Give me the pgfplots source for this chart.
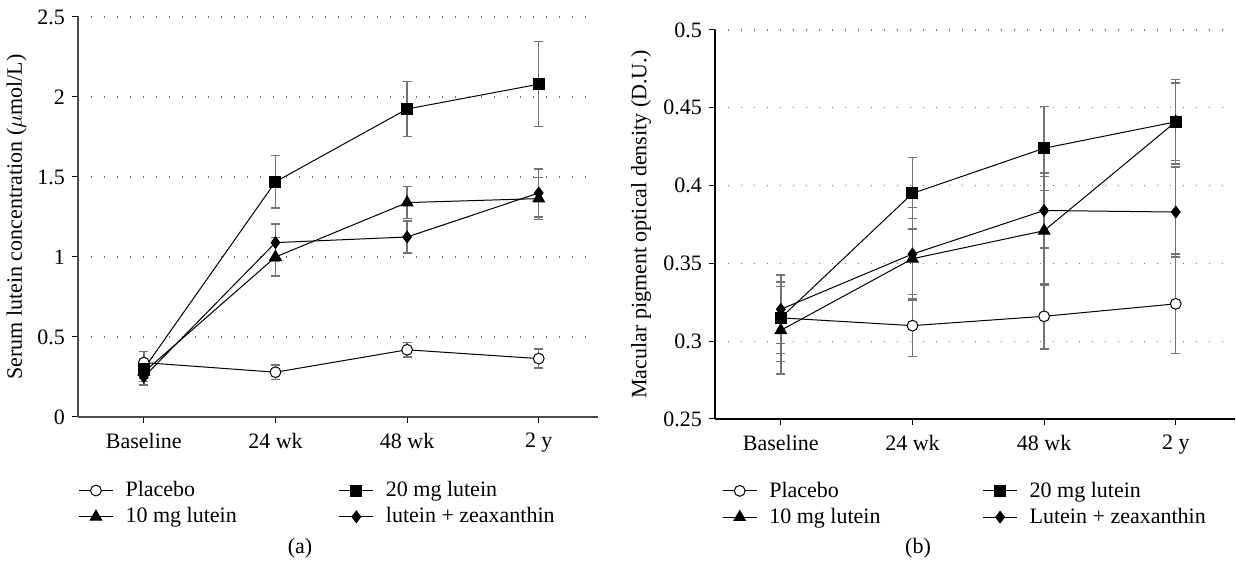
\documentclass[border=0pt]{standalone}
\usepackage{fontspec}
\setmainfont{Liberation Serif}
\usepackage{pgfplots}
\pgfplotsset{compat=1.18}

\pgfplotsset{
  panel/.style={
    scale only axis,
    width=260pt,
    xmin=-0.5, xmax=3.45,
    axis lines=left,
    axis line style={-},
    xtick={0,1,2,3},
    xticklabels={Baseline,24 wk,48 wk,2 y},
    xticklabel style={yshift=-1.5pt},
    tick align=outside,
    major tick length=3pt,
    tick style={black, line width=0.5pt},
    ymajorgrids,
    grid style={black!55, line width=0.6pt, dash pattern=on 0.6pt off 5.9pt},
    font=\fontsize{11}{13}\selectfont,
    tick label style={font=\fontsize{11}{13}\selectfont},
    /pgf/number format/assume math mode=true,
    every axis y label/.style={rotate=90, anchor=center},
    legend columns=2,
    legend cell align=left,
    legend style={draw=none, fill=none, inner sep=0pt, anchor=north west,
      font=\fontsize{11}{13}\selectfont, row sep=0pt,
      /tikz/every odd column/.append style={column sep=4pt},
      /tikz/every even column/.append style={column sep=49pt}},
    error bars/y dir=both,
    error bars/y explicit,
    error bars/error bar style={black!55, line width=0.7pt},
    error bars/error mark options={rotate=90, black!55, mark size=2.2pt, line width=0.7pt},
  },
  grp/.style={black, line width=0.5pt},
}

\begin{document}
\begin{tikzpicture}
\useasboundingbox (0,0) rectangle (618pt,283pt);

% ---------- (a) serum lutein ----------
\begin{axis}[panel,
  at={(39pt,74.5pt)}, anchor=south west,
  height=200pt,
  ymin=0, ymax=2.5,
  ytick={0,0.5,1,1.5,2,2.5},
  axis line style={black!70, line width=1pt},
  ylabel={Serum lutein concentration ($\mu$mol/L)},
  ylabel style={at={(axis description cs:-0.118,0.5)}},
  legend style={at={(axis description cs:0.0,-0.15)}},
]
\addplot[grp, mark=*, mark size=2.7pt, mark options={fill=white, draw=black}]
  table[x=x, y=y, y error=e] {
x y e
0 0.340 0.070
1 0.280 0.045
2 0.420 0.045
3 0.365 0.060
};
\addlegendentry{Placebo}
\addplot[grp, mark=square*, mark size=2.75pt, mark options={fill=black}]
  table[x=x, y=y, y error=e] {
x y e
0 0.300 0.060
1 1.470 0.165
2 1.925 0.172
3 2.080 0.265
};
\addlegendentry{20 mg lutein}
\addplot[grp, mark=triangle*, mark size=3.3pt, mark options={fill=black}]
  table[x=x, y=y, y error=e] {
x y e
0 0.280 0.060
1 1.000 0.120
2 1.340 0.100
3 1.365 0.130
};
\addlegendentry{10 mg lutein}
\addplot[grp, mark=diamond*, mark size=2.9pt, mark options={fill=black}]
  table[x=x, y=y, y error=e] {
x y e
0 0.250 0.050
1 1.090 0.115
2 1.125 0.100
3 1.400 0.150
};
\addlegendentry{lutein + zeaxanthin}
\end{axis}

% ---------- (b) MPOD ----------
\begin{axis}[panel,
  at={(357.5pt,73.5pt)}, anchor=south west,
  height=194.5pt,
  ymin=0.25, ymax=0.5,
  ytick={0.25,0.3,0.35,0.4,0.45,0.5},
  yticklabel style={/pgf/number format/fixed, /pgf/number format/precision=2},
  axis line style={black, line width=1.4pt},
  ylabel={Macular pigment optical density (D.U.)},
  ylabel style={at={(axis description cs:-0.142,0.5)}},
  legend style={at={(axis description cs:0.013,-0.15)}},
]
\addplot[grp, mark=*, mark size=2.7pt, mark options={fill=white, draw=black}]
  table[x=x, y=y, y error=e] {
x y e
0 0.3150 0.023
1 0.3100 0.020
2 0.3160 0.021
3 0.3240 0.032
};
\addlegendentry{Placebo}
\addplot[grp, mark=square*, mark size=2.75pt, mark options={fill=black}]
  table[x=x, y=y, y error=e] {
x y e
0 0.3150 0.028
1 0.3950 0.023
2 0.4240 0.027
3 0.4410 0.025
};
\addlegendentry{20 mg lutein}
\addplot[grp, mark=triangle*, mark size=3.3pt, mark options={fill=black}]
  table[x=x, y=y, y error=e] {
x y e
0 0.3070 0.028
1 0.3530 0.026
2 0.3710 0.035
3 0.4410 0.027
};
\addlegendentry{10 mg lutein}
\addplot[grp, mark=diamond*, mark size=2.9pt, mark options={fill=black}]
  table[x=x, y=y, y error=e] {
x y e
0 0.3205 0.022
1 0.3560 0.030
2 0.3840 0.024
3 0.3830 0.029
};
\addlegendentry{Lutein + zeaxanthin}
\end{axis}

\node[font=\fontsize{11}{13}\selectfont] at (150pt,9pt) {(a)};
\node[font=\fontsize{11}{13}\selectfont] at (459pt,9pt) {(b)};
\end{tikzpicture}
\end{document}
